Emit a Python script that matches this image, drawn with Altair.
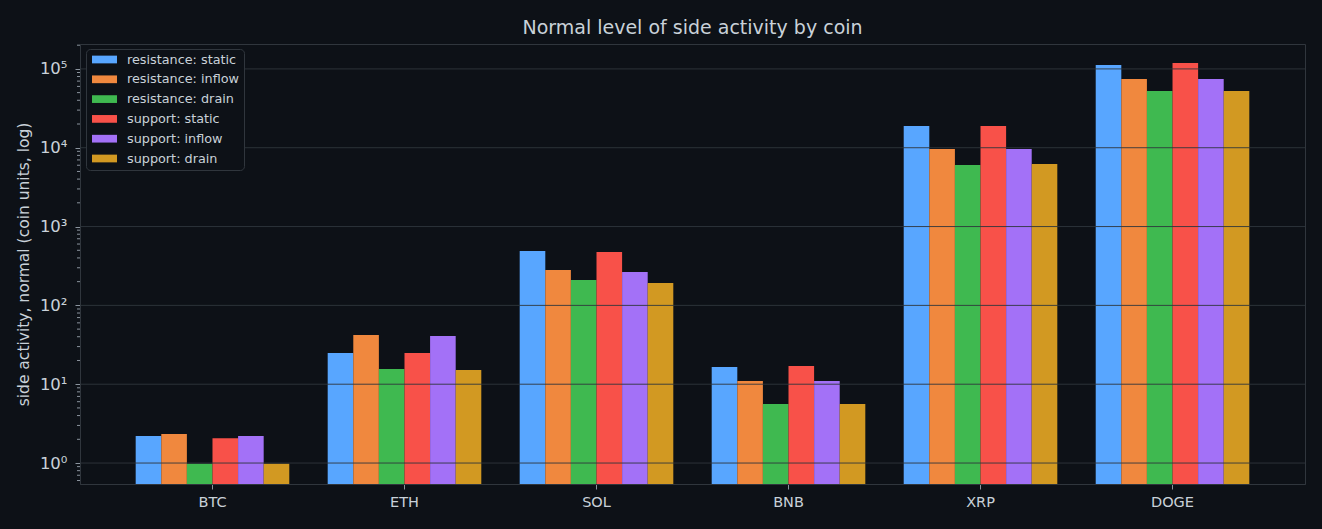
import altair as alt
import pandas as pd

coins = ["BTC", "ETH", "SOL", "BNB", "XRP", "DOGE"]
series = ["resistance: static", "resistance: inflow", "resistance: drain",
          "support: static", "support: inflow", "support: drain"]
colors = ["#58a6ff", "#f0883e", "#3fb950", "#f85149", "#a371f7", "#d29922"]

res_static = [2.2, 24.9, 491, 16.5, 18900, 112000]
res_inflow = [2.33, 42, 281, 11.0, 9660, 74700]
res_drain = [0.98, 15.6, 210, 5.6, 6030, 52500]
sup_static = [2.07, 24.9, 476, 17.0, 18900, 119000]
sup_inflow = [2.2, 40.9, 265, 11.0, 9660, 74700]
sup_drain = [0.98, 15.1, 192, 5.6, 6230, 52500]

major_ticks = [1, 10, 100, 1000, 10000, 100000]
y_min, y_max = 0.542, 2.07e5

all_series = [res_static, res_inflow, res_drain, sup_static, sup_inflow, sup_drain]
rows = []
for s, vals in zip(series, all_series):
    for c, v in zip(coins, vals):
        rows.append({"coin": c, "series": s, "value": v})
df = pd.DataFrame(rows)

minor = []
for k in range(-1, 6):
    for m in range(2, 10):
        v = m * 10 ** k
        if y_min <= v <= y_max:
            minor.append(v)
minor_df = pd.DataFrame({"v": minor})
major_df = pd.DataFrame({"v": major_ticks})

W, H = 1225, 440
TXT = "#c9d1d9"
GRID = "#30363d"

yscale = alt.Scale(type="log", domain=[y_min, y_max], nice=False)

label_expr = ("datum.value == 1 ? '10⁰' : datum.value == 10 ? '10¹' : datum.value == 100 ? '10²' : "
              "datum.value == 1000 ? '10³' : datum.value == 10000 ? '10⁴' : '10⁵'")

bars = alt.Chart(df).mark_bar().encode(
    x=alt.X("coin:N", sort=coins, title=None,
            scale=alt.Scale(paddingInner=0.2, paddingOuter=0.29),
            axis=alt.Axis(labelAngle=0, labelColor=TXT, labelFontSize=14.5, tickColor="#8b949e",
                          tickSize=5, domainColor=GRID, labelPadding=6, grid=False)),
    xOffset=alt.XOffset("series:N", sort=series, scale=alt.Scale(paddingInner=0, paddingOuter=0)),
    y=alt.Y("value:Q", scale=yscale, title="side activity, normal (coin units, log)",
            axis=alt.Axis(values=major_ticks, labelExpr=label_expr, labelColor=TXT, labelFontSize=16.5,
                          labelPadding=8,
                          titleColor=TXT, titleFontSize=15.5, titleFontWeight="normal", tickColor="#8b949e",
                          tickSize=5, domainColor=GRID, grid=False, titlePadding=8)),
    y2=alt.datum(y_min),
    color=alt.Color("series:N", sort=series,
                    scale=alt.Scale(domain=series, range=colors),
                    legend=alt.Legend(title=None, orient="none", legendX=6, legendY=5,
                                      fillColor="#0d1117", strokeColor=GRID, cornerRadius=4,
                                      padding=4, labelColor=TXT, labelFontSize=12.8, labelFont="DejaVu Sans",
                                      symbolType="M-2,-0.62H2V0.62H-2Z", symbolSize=156,
                                      symbolStrokeWidth=0, symbolOpacity=1, labelOffset=16,
                                      symbolOffset=8, rowPadding=5.8)),
)

grid = alt.Chart(major_df).mark_rule(color=GRID, opacity=0.9, strokeWidth=1).encode(
    y=alt.Y("v:Q", scale=yscale)
)

minor_ticks = alt.Chart(minor_df).mark_rule(color="#8b949e", strokeWidth=1, clip=False).encode(
    y=alt.Y("v:Q", scale=yscale),
    x=alt.value(-3),
    x2=alt.value(0),
)

chart = alt.layer(bars, grid, minor_ticks).properties(
    width=W, height=H,
    background="#0d1117",
    padding={"left": 80, "top": 44, "right": 17, "bottom": 45},
    autosize=alt.AutoSizeParams(type="none"),
    title=alt.TitleParams("Normal level of side activity by coin", color=TXT, fontSize=19,
                          fontWeight="normal", font="DejaVu Sans", offset=6, anchor="middle"),
).configure(font="DejaVu Sans").configure_view(
    fill="#0d1117", stroke=GRID, strokeWidth=1
)

chart.save("out.html", embed_options={"renderer": "svg", "actions": False})
